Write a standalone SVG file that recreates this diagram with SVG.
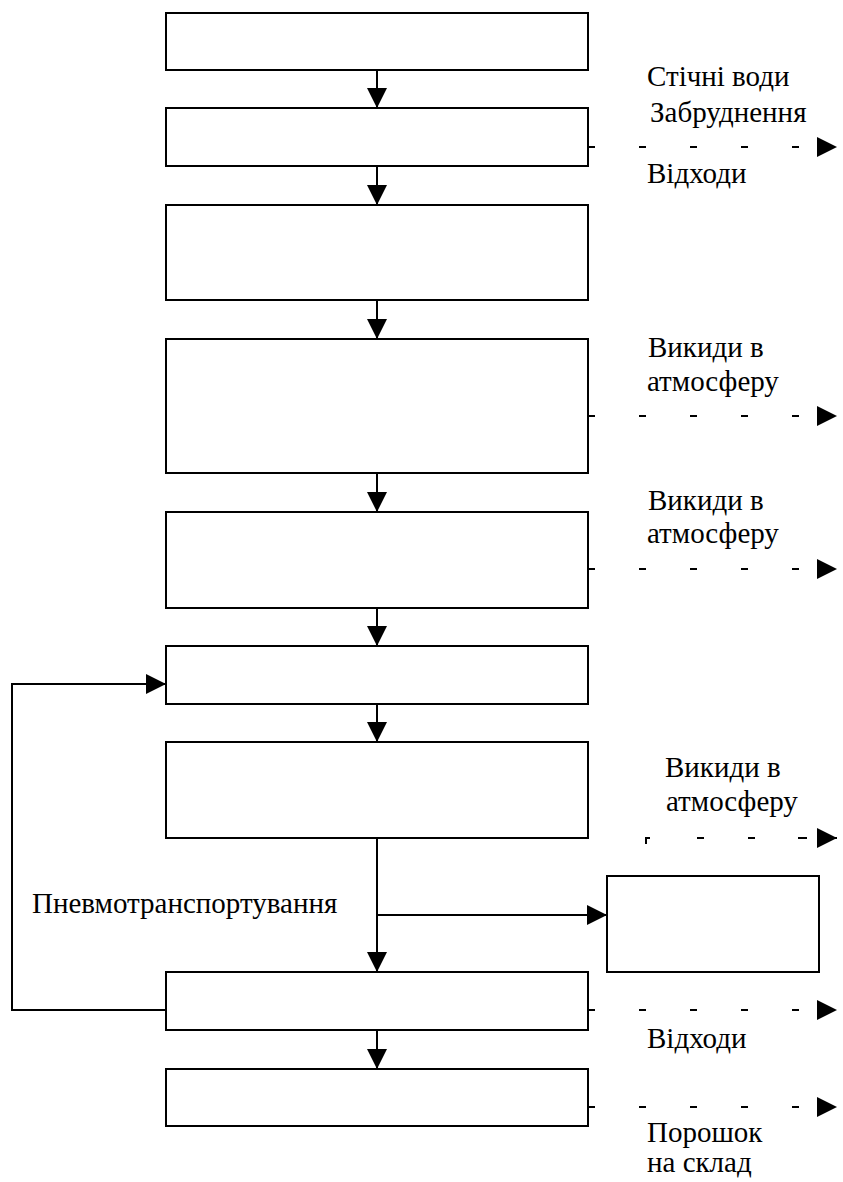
<svg xmlns="http://www.w3.org/2000/svg" width="843" height="1182" viewBox="0 0 843 1182">
<style>
.box{fill:#fff;stroke:#000;stroke-width:2}
.ln{fill:none;stroke:#000;stroke-width:2}
.ar{fill:none;stroke:#000;stroke-width:2;marker-end:url(#ah)}
.dsh{fill:none;stroke:#000;stroke-width:2;stroke-dasharray:7 44;marker-end:url(#ah)}
</style>
<defs>
<marker id="ah" markerUnits="userSpaceOnUse" markerWidth="20" markerHeight="20" refX="20" refY="10" orient="auto" viewBox="0 0 20 20">
<path d="M0,0 L20,10 L0,20 z" fill="#000"/>
</marker>
</defs>
<g id="connectors">
<line class="ar" x1="377" y1="70" x2="377" y2="108"/>
<line class="ar" x1="377" y1="166" x2="377" y2="205"/>
<line class="ar" x1="377" y1="300" x2="377" y2="339"/>
<line class="ar" x1="377" y1="473" x2="377" y2="512"/>
<line class="ar" x1="377" y1="608" x2="377" y2="646"/>
<line class="ar" x1="377" y1="704" x2="377" y2="742"/>
<line class="ar" x1="377" y1="838" x2="377" y2="972"/>
<line class="ar" x1="377" y1="915" x2="607" y2="915"/>
<line class="ar" x1="377" y1="1030" x2="377" y2="1069"/>
<path class="ar" d="M166,1010 H12 V684 H166"/>
<line class="dsh" x1="588" y1="147" x2="837" y2="147"/>
<line class="dsh" x1="588" y1="416" x2="837" y2="416"/>
<line class="dsh" x1="588" y1="569" x2="837" y2="569"/>
<path class="ln" d="M646,844 V838 H650 M697,838 H704 M748,838 H755 M798,838 H807"/>
<line class="ar" x1="817" y1="838" x2="837" y2="838" stroke-width="0"/>
<line class="dsh" x1="588" y1="1010" x2="837" y2="1010"/>
<line class="dsh" x1="588" y1="1107" x2="837" y2="1107"/>
</g>
<g id="n1"><rect class="box" x="166" y="13" width="422" height="57"/></g>
<g id="n2"><rect class="box" x="166" y="108" width="422" height="58"/></g>
<g id="n3"><rect class="box" x="166" y="205" width="422" height="95"/></g>
<g id="n4"><rect class="box" x="166" y="339" width="422" height="134"/></g>
<g id="n5"><rect class="box" x="166" y="512" width="422" height="96"/></g>
<g id="n6"><rect class="box" x="166" y="646" width="422" height="58"/></g>
<g id="n7"><rect class="box" x="166" y="742" width="422" height="96"/></g>
<g id="n8"><rect class="box" x="607" y="876" width="212" height="96"/></g>
<g id="n9"><rect class="box" x="166" y="972" width="422" height="58"/></g>
<g id="n10"><rect class="box" x="166" y="1069" width="422" height="57"/></g>
<g id="labels" style="font-family:'Liberation Serif','Times New Roman','DejaVu Serif',serif" font-size="29" fill="#000">
<text x="647" y="86">Стічні води</text>
<text x="650" y="122">Забруднення</text>
<text x="647" y="183">Відходи</text>
<text x="648" y="357">Викиди в</text>
<text x="647" y="391">атмосферу</text>
<text x="648" y="510">Викиди в</text>
<text x="647" y="543">атмосферу</text>
<text x="665" y="777">Викиди в</text>
<text x="666" y="811">атмосферу</text>
<text x="32" y="913">Пневмотранспортування</text>
<text x="647" y="1048">Відходи</text>
<text x="647" y="1142">Порошок</text>
<text x="647" y="1172">на склад</text>
</g>
</svg>
